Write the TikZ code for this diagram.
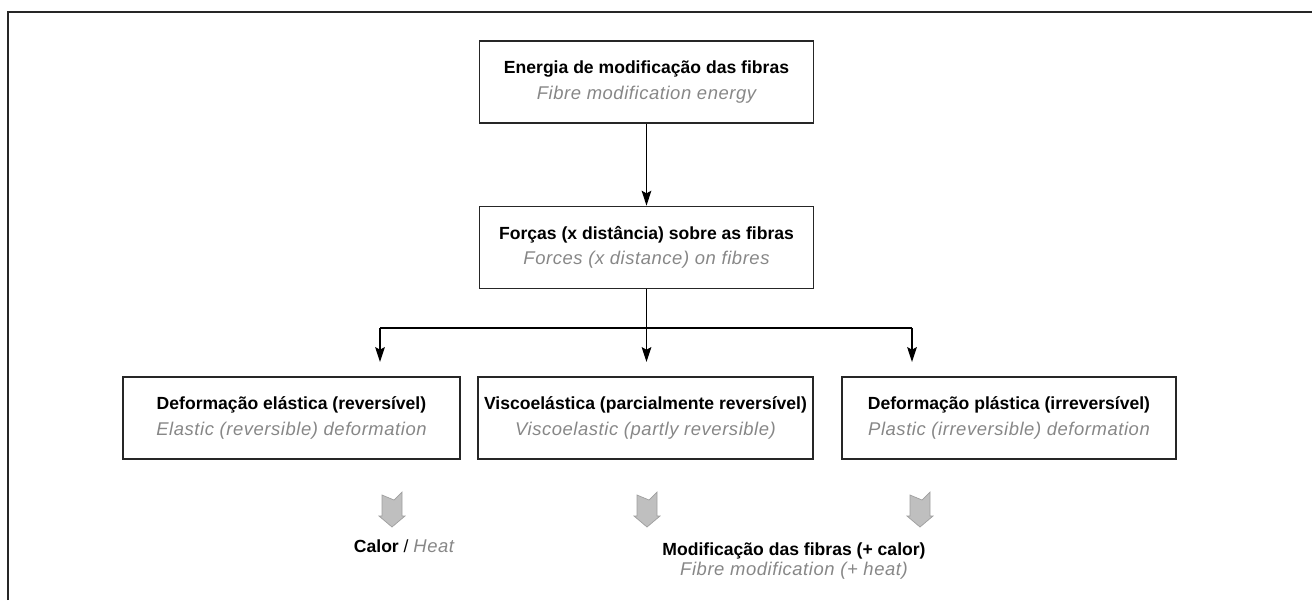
\documentclass[tikz,border=0pt]{standalone}
\usepackage{fontspec}
\setmainfont{Liberation Sans}
\newfontfamily\enfont[LetterSpace=3]{Liberation Sans}
\usetikzlibrary{arrows.meta, positioning}

\newcommand{\ptline}[1]{{\bfseries #1}}
\newcommand{\enline}[1]{{\enfont\fontsize{10.5}{14.7}\selectfont\color{black!47}\itshape #1}}

\begin{document}
\begin{tikzpicture}[
    x=0.02cm, y=-0.02cm,
    stage/.style={draw=black!85, line width=0.75pt, minimum width=6.68cm, minimum height=1.64cm,
                  inner sep=0pt, align=center, font=\fontsize{10}{14.7}\selectfont},
    outcome/.style={align=center, inner sep=0pt, font=\fontsize{10}{12.5}\selectfont},
    link/.style={line width=0.7pt},
    arrow/.style={-{Stealth[length=8.5pt,width=5.5pt,inset=1.5pt]}, line width=0.7pt},
    heatarrow/.style={fill=gray!50, draw=gray!75, line width=0.4pt}
]
\useasboundingbox (0,0) rectangle (1312,600);

% outer frame
\draw[line width=1pt, black!85] (8,600) -- (8,12) -- (1312,12);

% ===== TOP CHAIN =====
\node[stage] (energy) at (646.5,82) {\ptline{Energia de modificação das fibras}\\\enline{Fibre modification energy}};
\node[stage, below=1.64cm of energy] (forces) {\ptline{Forças (x distância) sobre as fibras}\\\enline{Forces (x distance) on fibres}};

\draw[arrow] (energy) -- (forces);

% ===== THREE DEFORMATIONS =====
\node[stage, minimum width=6.74cm] (elastic) at (291.5,418) {\ptline{Deformação elástica (reversível)}\\\enline{Elastic (reversible) deformation}};
\node[stage, minimum width=6.70cm] (visco) at (645.5,418) {\ptline{Viscoelástica (parcialmente reversível)}\\\enline{Viscoelastic (partly reversible)}};
\node[stage, minimum width=6.68cm] (plastic) at (1009,418) {\ptline{Deformação plástica (irreversível)}\\\enline{Plastic (irreversible) deformation}};

% branching
\coordinate (splitL) at (380,328);
\coordinate (splitM) at (646.5,328);
\coordinate (splitR) at (912,328);
\coordinate (endL) at (380,362);
\coordinate (endM) at (646.5,362);
\coordinate (endR) at (912,362);

\draw[link] (forces) -- (splitM);
\draw[link] (splitL) -- (splitR);
\foreach \s/\e in {splitL/endL, splitM/endM, splitR/endR} {
    \draw[arrow] (\s) -- (\e);
}

% ===== RESULTS =====
\foreach \x in {392,647,920} {
    \draw[heatarrow] (\x-10,495) -- (\x+2,500) -- (\x+10,492) -- (\x+10,516) -- (\x+13,516)
        -- (\x,527) -- (\x-13,516) -- (\x-10,516) -- cycle;
}

\node[outcome] (heat) at (404,546) {\ptline{Calor} / \enline{Heat}};
\node[outcome] (fibremod) at (794,561) {\ptline{Modificação das fibras (+ calor)}\\[-1pt]\enline{Fibre modification (+ heat)}};

\end{tikzpicture}
\end{document}
